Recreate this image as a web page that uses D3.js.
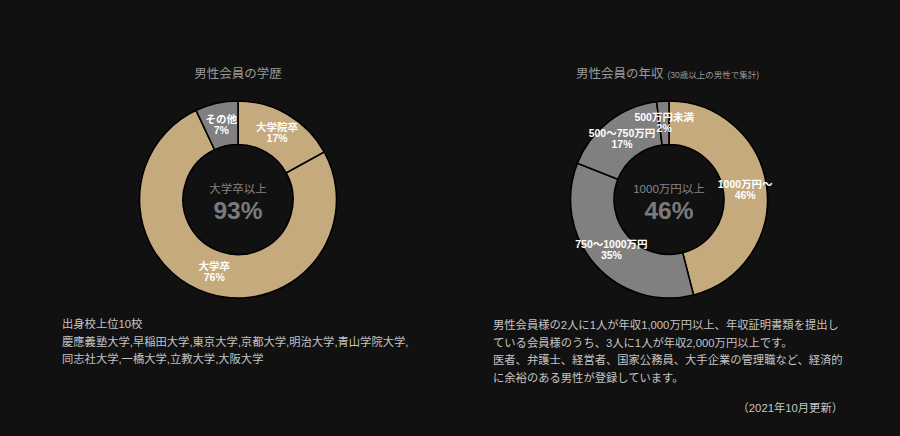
<!DOCTYPE html>
<html><head><meta charset="utf-8">
<script src="https://cdn.jsdelivr.net/npm/d3@7"></script>
<style>
html,body{margin:0;padding:0;background:#111111;}
svg{display:block;}
text{font-family:Arial,"Liberation Sans","Noto Sans CJK JP",sans-serif;}
</style></head>
<body><svg id="c" width="900" height="436"></svg>
<script>
const eduLabels = ["大学院卒","大学卒","その他"];
const eduValues = [17, 76, 7];
const eduColors = ["#c4aa7d","#c4aa7d","#808080"];
const incLabels = ["1000万円〜","750〜1000万円","500〜750万円","500万円未満"];
const incValues = [46, 35, 17, 2];
const incColors = ["#c4aa7d","#808080","#808080","#808080"];

const svg = d3.select("#c");
svg.append("rect").attr("width",900).attr("height",436).attr("fill","#111111");

function donut(cx, cy, labels, values, colors, centerTitle, centerValue){
  const g = svg.append("g").attr("transform",`translate(${cx},${cy})`);
  const pie = d3.pie().sort(null).value(d=>d);
  const arc = d3.arc().innerRadius(55).outerRadius(98.5);
  const arcs = pie(values);
  g.selectAll("path").data(arcs).join("path")
    .attr("d",arc).attr("fill",(d,i)=>colors[i])
    .attr("stroke","#000").attr("stroke-width",1.6);
  const lab = g.selectAll("g.lab").data(arcs).join("g").attr("class","lab")
    .attr("transform",d=>`translate(${arc.centroid(d)})`);
  lab.append("text").attr("text-anchor","middle").attr("y",-2)
    .attr("fill","#fff").attr("font-size",10.5).attr("font-weight","bold")
    .text((d,i)=>labels[i]);
  lab.append("text").attr("text-anchor","middle").attr("y",9)
    .attr("fill","#fff").attr("font-size",10.5).attr("font-weight","bold")
    .text((d,i)=>values[i]+"%");
  g.append("text").attr("text-anchor","middle").attr("y",-7)
    .attr("fill","#858585").attr("font-size",11.5).text(centerTitle);
  g.append("text").attr("text-anchor","middle").attr("y",19.5)
    .attr("fill","#7a7a7a").attr("font-size",24.5).attr("font-weight","bold").text(centerValue);
}

// titles
svg.append("text").attr("x",238).attr("y",78).attr("text-anchor","middle")
  .attr("fill","#9a9a9a").attr("font-size",12.5).text("男性会員の学歴");
const t2 = svg.append("text").attr("x",576).attr("y",78).attr("fill","#9a9a9a").attr("font-size",12.5);
t2.append("tspan").text("男性会員の年収");
t2.append("tspan").attr("font-size",8.5).attr("dx",4).text("(30歳以上の男性で集計)");

donut(238, 199.5, eduLabels, eduValues, eduColors, "大学卒以上", "93%");
donut(669, 199.5, incLabels, incValues, incColors, "1000万円以上", "46%");

const leftLines = ["出身校上位10校","慶應義塾大学,早稲田大学,東京大学,京都大学,明治大学,青山学院大学,","同志社大学,一橋大学,立教大学,大阪大学"];
svg.append("g").selectAll("text").data(leftLines).join("text")
  .attr("x",62).attr("y",(d,i)=>328+i*17.5).attr("fill","#c4c4c4").attr("font-size",11.3).text(d=>d);

const rightLines = ["男性会員様の2人に1人が年収1,000万円以上、年収証明書類を提出し","ている会員様のうち、3人に1人が年収2,000万円以上です。","医者、弁護士、経営者、国家公務員、大手企業の管理職など、経済的","に余裕のある男性が登録しています。"];
svg.append("g").selectAll("text").data(rightLines).join("text")
  .attr("x",493).attr("y",(d,i)=>329+i*17.6).attr("fill","#c4c4c4").attr("font-size",11.3).text(d=>d);

svg.append("text").attr("x",843).attr("y",412).attr("text-anchor","end")
  .attr("fill","#c4c4c4").attr("font-size",11.3).text("（2021年10月更新）");
</script></body></html>
